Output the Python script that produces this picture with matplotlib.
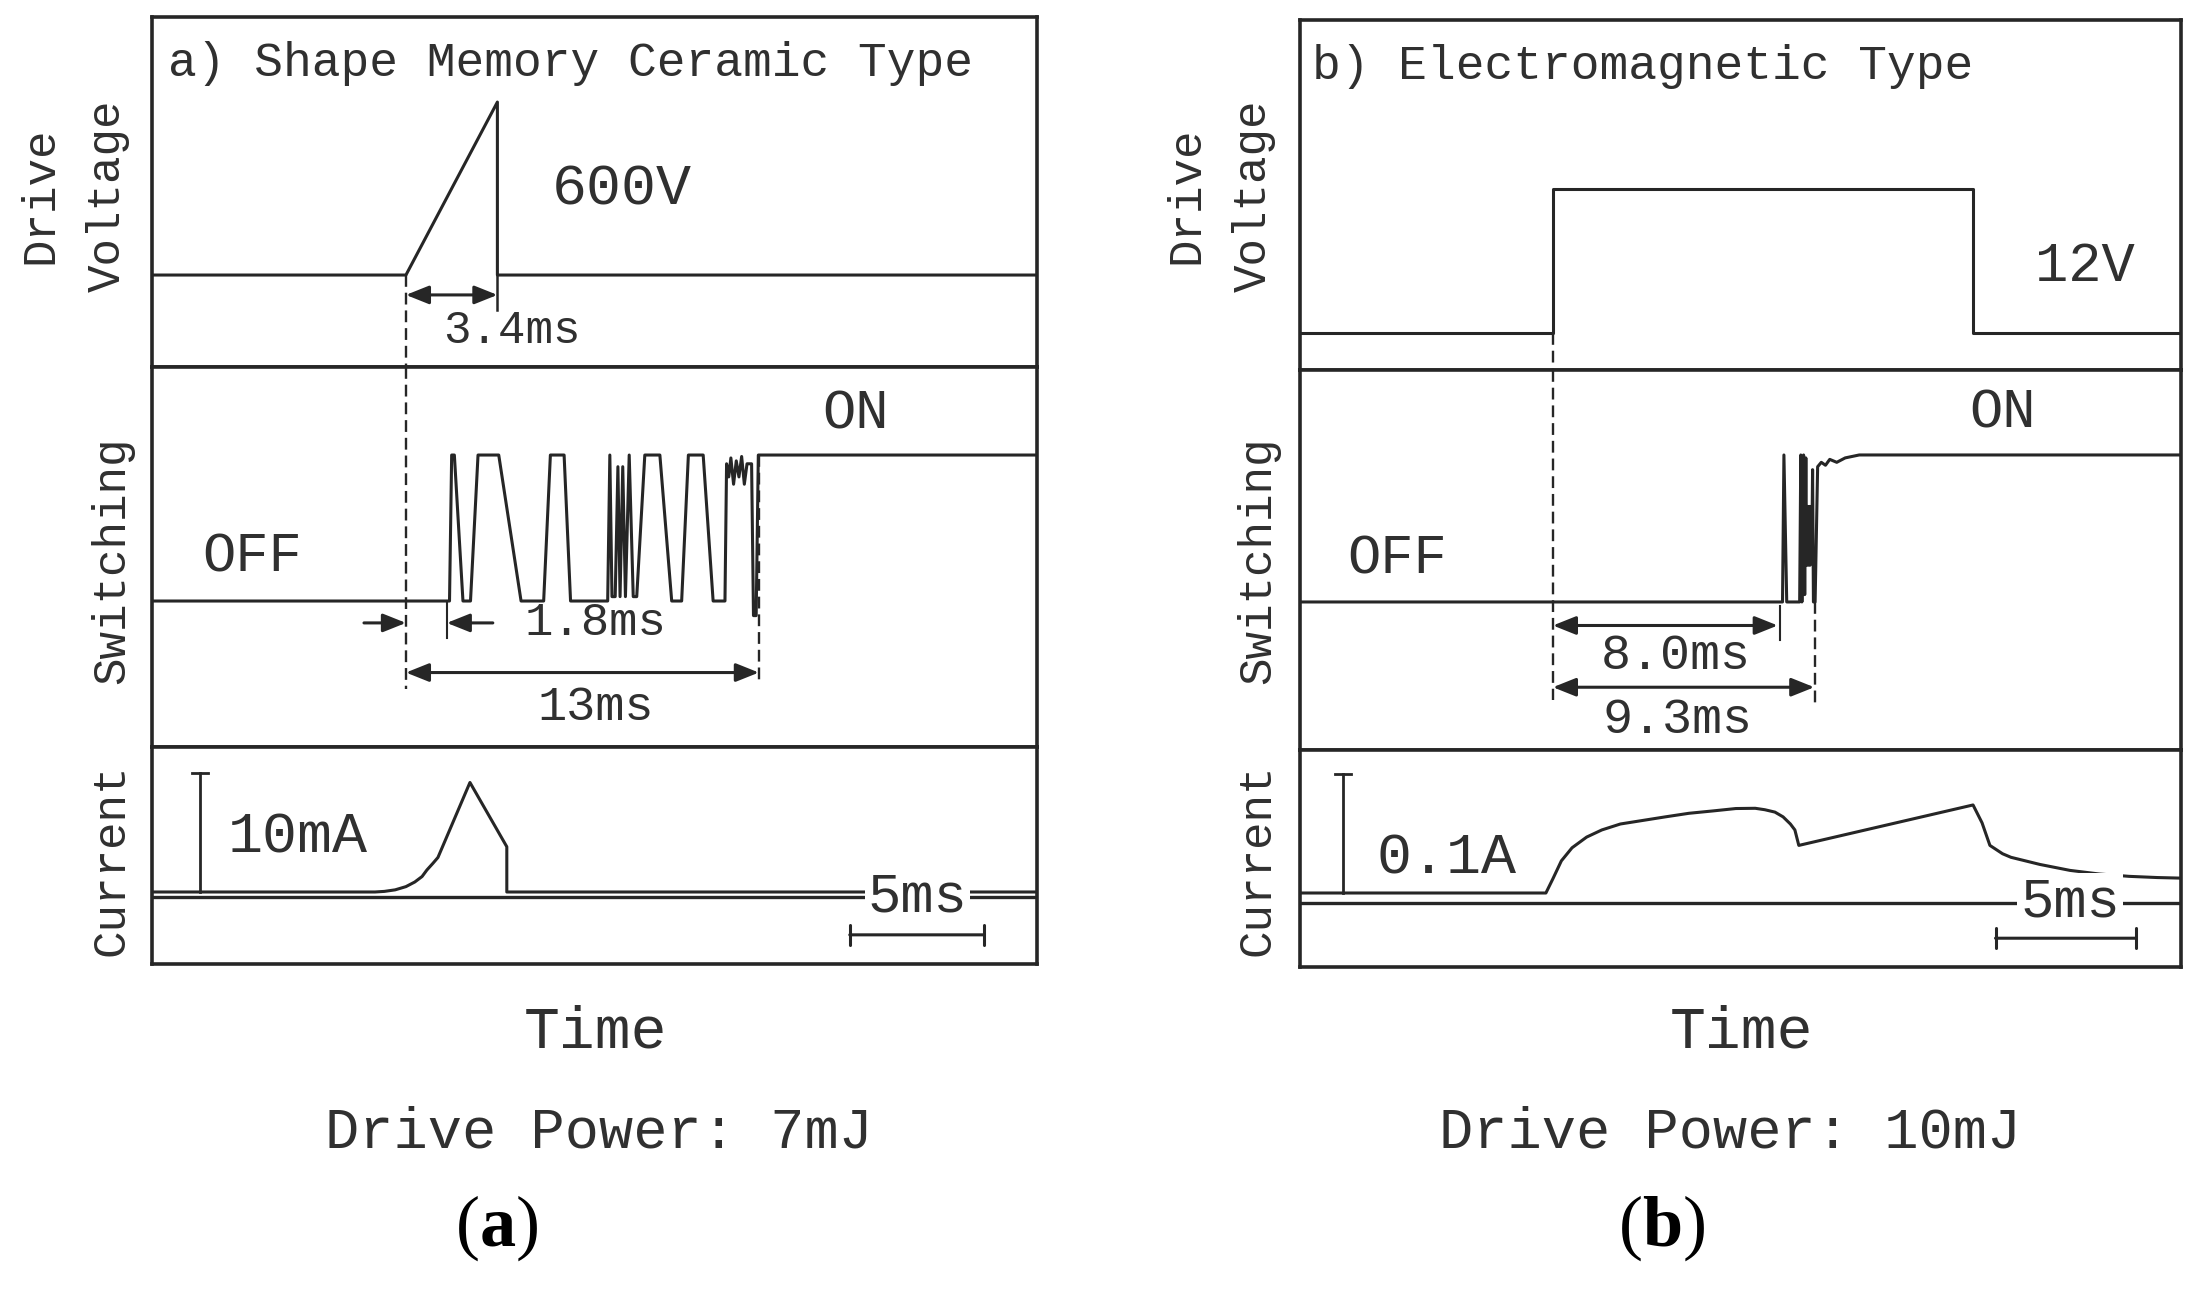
import numpy as np
import matplotlib.pyplot as plt

plt.rcParams['font.family'] = 'Liberation Mono'
plt.rcParams['mathtext.fontset'] = 'custom'
plt.rcParams['mathtext.rm'] = 'Liberation Serif'
plt.rcParams['mathtext.bf'] = 'Liberation Serif:bold'

W, H = 2197, 1313
LC = '#262626'   # line colour
TC = '#303030'   # text colour

# ---- panel a: shape memory ceramic (time in ms) ----
volt_a_t = [-9.44, 0.0, 3.4, 3.4, 23.46]
volt_a_V = [0, 0, 600, 0, 0]

sw_a_t = [-9.44, 1.62, 1.70, 1.80, 2.12, 2.40, 2.68, 3.45, 4.28, 5.12, 5.37, 5.88, 6.12,
          7.50, 7.58, 7.66, 7.78, 7.88, 7.96, 8.06, 8.16, 8.30, 8.45, 8.58, 8.88, 9.44,
          9.88, 10.25, 10.50, 11.05, 11.42, 11.86, 11.92, 12.0, 12.08, 12.18, 12.28,
          12.38, 12.48, 12.58, 12.68, 12.85, 12.92, 13.02, 13.10, 23.46]
sw_a_lvl = [0, 0, 1.0, 1.0, 0, 0, 1.0, 1.0, 0, 0, 1.0, 1.0, 0,
            0, 1.0, 0.03, 0.03, 0.92, 0.03, 0.92, 0.03, 1.0, 0.03, 0.03, 1.0, 1.0,
            0, 0, 1.0, 1.0, 0, 0, 0.94, 0.85, 0.98, 0.80, 0.96,
            0.85, 0.99, 0.80, 0.94, 0.94, -0.1, -0.1, 1.0, 1.0]

cur_a_t = [-9.44, -1.15, -0.8, -0.4, 0.0, 0.33, 0.6, 0.78, 1.0, 1.19, 2.38, 3.75, 3.75, 23.46]
cur_a_mA = [0, 0, 0.05, 0.18, 0.45, 0.84, 1.3, 1.85, 2.4, 2.9, 9.2, 3.8, 0, 0]

# ---- panel b: electromagnetic ----
volt_b_t = [-9.0, 0.0, 0.0, 14.95, 14.95, 22.35]
volt_b_V = [0, 0, 12, 12, 0, 0]

sw_b_t = [-9.0, 8.17, 8.22, 8.32, 8.78, 8.82, 8.86, 8.92, 8.96, 9.0, 9.03, 9.06, 9.09,
          9.12, 9.15, 9.18, 9.21, 9.24, 9.27, 9.33, 9.42, 9.55, 9.7, 9.85, 10.1, 10.4,
          10.9, 22.35]
sw_b_lvl = [0, 0, 1.0, 0, 0, 1.0, 0, 1.0, 0.05, 0.98, 0.25, 0.65, 0.25,
            0.65, 0.25, 0.65, 0.3, 0.9, 0, 0, 0.92, 0.95, 0.93, 0.97, 0.95, 0.98,
            1.0, 1.0]

cur_b_t = [-9.0, -0.25, 0.0, 0.3, 0.68, 1.2, 1.74, 2.4, 3.2, 4.0, 4.84, 5.7, 6.51, 7.2,
           7.54, 7.9, 8.19, 8.45, 8.61, 8.75, 14.95, 15.27, 15.55, 16.0, 16.3, 17.33,
           18.4, 19.43, 20.5, 21.5, 22.35]
cur_b_A = [0, 0, 0.012, 0.027, 0.038, 0.047, 0.053, 0.058, 0.061, 0.064, 0.067, 0.069,
           0.071, 0.0712, 0.070, 0.068, 0.064, 0.058, 0.053, 0.040, 0.074, 0.059, 0.040,
           0.033, 0.030, 0.024, 0.019, 0.016, 0.014, 0.013, 0.0125]


def px_axes(fig, x0, y0, x1, y1):
    ax = fig.add_axes([x0 / W, 1 - y1 / H, (x1 - x0) / W, (y1 - y0) / H])
    ax.set_xticks([])
    ax.set_yticks([])
    for s in ax.spines.values():
        s.set_linewidth(2.6)
        s.set_color(LC)
    return ax


def dim_arrow(ax, t0, t1, y, style='<|-|>'):
    ax.annotate('', xy=(t1, y), xytext=(t0, y),
                arrowprops=dict(arrowstyle=style + ',head_length=0.7,head_width=0.28',
                                mutation_scale=20, lw=2.2, color=LC,
                                shrinkA=0, shrinkB=0))


def dashed(ax, t, y0, y1):
    ax.plot([t, t], [y0, y1], color=LC, lw=1.7, dashes=(5, 2.5))


def label(ax, x, y, s, size, **kw):
    ax.text(x, y, s, fontsize=size, color=TC, ha=kw.pop('ha', 'center'), va='center', **kw)


def ftext(x, y, s, **kw):
    kw.setdefault('color', TC)
    fig.text(x / W, 1 - y / H, s, ha='center', va='center', **kw)


fig = plt.figure(figsize=(W / 100, H / 100), dpi=100)
white = dict(facecolor='white', edgecolor='none', pad=2)

# ================= panel a =================
xa = (-9.44, 23.46)
av = px_axes(fig, 152, 17, 1037, 367)
asw = px_axes(fig, 152, 367, 1037, 747)
ac = px_axes(fig, 152, 747, 1037, 964)
av.set_xlim(xa); asw.set_xlim(xa); ac.set_xlim(xa)
av.set_ylim(-319, 895)
asw.set_ylim(-1.0, 1.603)
ac.set_ylim(-6.05, 12.18)

av.plot(volt_a_t, volt_a_V, color=LC, lw=2.2)
av.plot([3.4, 3.4], [0, -121], color=LC, lw=1.8)
dashed(av, 0, 0, -319)
dim_arrow(av, 0, 3.4, -69)
label(av, -8.85, 735, 'a) Shape Memory Ceramic Type', 34.5, ha='left')
label(av, 8.03, 298, '600V', 42)
label(av, 3.94, -194, '3.4ms', 33)

asw.plot(sw_a_t, sw_a_lvl, color=LC, lw=2.2)
dashed(asw, 0, 1.603, -0.6)
dashed(asw, 13.12, 1.0, -0.56)
asw.plot([1.52, 1.52], [0, -0.25], color=LC, lw=1.5)
dim_arrow(asw, -1.56, 0.0, -0.15, style='-|>')
dim_arrow(asw, 3.23, 1.52, -0.15, style='-|>')
dim_arrow(asw, 0, 13.12, -0.49)
label(asw, 16.7, 1.28, 'ON', 40)
label(asw, -5.72, 0.30, 'OFF', 40)
label(asw, 7.06, -0.15, '1.8ms', 34)
label(asw, 7.06, -0.73, '13ms', 35)

ac.plot(xa, [-0.45, -0.45], color=LC, lw=2.4)
ac.plot(cur_a_t, cur_a_mA, color=LC, lw=2.2)
ac.plot([-7.66, -7.66], [0, 10], color=LC, lw=2.0)
ac.plot([-7.96, -7.36], [10, 10], color=LC, lw=2.0)
label(ac, -4.01, 4.6, '10mA', 42)
label(ac, 19.03, -0.5, '5ms', 40, bbox=white)
ac.annotate('', xy=(21.5, -3.6), xytext=(16.5, -3.6),
            arrowprops=dict(arrowstyle='|-|,widthA=0.35,widthB=0.35', mutation_scale=20,
                            lw=2.2, color=LC, shrinkA=0, shrinkB=0))

# ================= panel b =================
xb = (-9.0, 22.35)
bv = px_axes(fig, 1300, 20, 2181, 370)
bsw = px_axes(fig, 1300, 370, 2181, 750)
bc = px_axes(fig, 1300, 750, 2181, 967)
bv.set_xlim(xb); bsw.set_xlim(xb); bc.set_xlim(xb)
bv.set_ylim(-3.08, 26.08)
bsw.set_ylim(-1.007, 1.578)
bc.set_ylim(-0.0622, 0.1202)

bv.plot(volt_b_t, volt_b_V, color=LC, lw=2.2)
dashed(bv, 0, 0, -3.08)
label(bv, -8.58, 22.2, 'b) Electromagnetic Type', 34.5, ha='left')
label(bv, 18.93, 5.5, '12V', 40)

bsw.plot(sw_b_t, sw_b_lvl, color=LC, lw=2.2)
dashed(bsw, 0, 1.578, -0.67)
dashed(bsw, 9.32, 0, -0.71)
bsw.plot([8.08, 8.08], [-0.03, -0.26], color=LC, lw=1.5)
dim_arrow(bsw, 0, 8.0, -0.16)
dim_arrow(bsw, 0, 9.3, -0.58)
label(bsw, 16.0, 1.28, 'ON', 40)
label(bsw, -5.55, 0.29, 'OFF', 40)
label(bsw, 4.38, -0.37, '8.0ms', 36)
label(bsw, 4.45, -0.80, '9.3ms', 36)

bc.plot(xb, [-0.0084, -0.0084], color=LC, lw=2.4)
bc.plot(cur_b_t, cur_b_A, color=LC, lw=2.2)
bc.plot([-7.47, -7.47], [0, 0.1], color=LC, lw=2.0)
bc.plot([-7.75, -7.19], [0.1, 0.1], color=LC, lw=2.0)
label(bc, -3.77, 0.029, '0.1A', 42)
label(bc, 18.4, -0.0076, '5ms', 40, bbox=white)
bc.annotate('', xy=(20.75, -0.038), xytext=(15.75, -0.038),
            arrowprops=dict(arrowstyle='|-|,widthA=0.35,widthB=0.35', mutation_scale=20,
                            lw=2.2, color=LC, shrinkA=0, shrinkB=0))

# ---- side labels ----
for dx in (0, 1146):
    ftext(40 + dx, 195, 'Drive', fontsize=33, rotation=90)
    ftext(108 + dx, 196, 'Voltage', fontsize=33, rotation=90)
    ftext(112 + dx, 560, 'Switching', fontsize=33, rotation=90)
    ftext(112 + dx, 860, 'Current', fontsize=33, rotation=90)

# ---- bottom captions ----
ftext(596, 1032, 'Time', fontsize=43)
ftext(1741, 1032, 'Time', fontsize=43)
ftext(599, 1133, 'Drive Power: 7mJ', fontsize=41)
ftext(1730, 1133, 'Drive Power: 10mJ', fontsize=41)
ftext(497, 1228, r'$(\mathbf{a})$', fontsize=52, color='black')
ftext(1662, 1228, r'$(\mathbf{b})$', fontsize=52, color='black')

fig.savefig('out.png', dpi=100, facecolor='white')
